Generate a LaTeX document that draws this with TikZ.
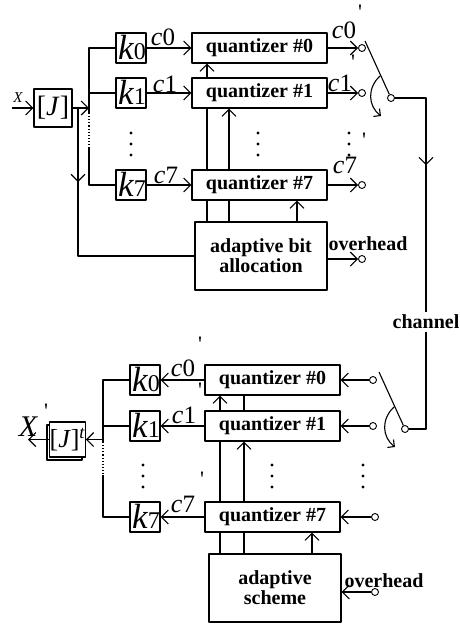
\documentclass[tikz,border=0pt]{standalone}
\usepackage{fontspec}
\setmainfont{Liberation Serif}
\usetikzlibrary{arrows.meta,decorations.markings}
\newcommand\fsz[1]{\fontsize{#1}{#1}\selectfont}
\newcommand\klab[1]{{\fsz{35}\itshape k}{\fsz{24}#1}}
\newcommand\clab[1]{{\fsz{26}\itshape c}{\fsz{25}#1}}
\newcommand\tick{{\fsz{22}\textquotesingle}}
\newcommand\vdts[2]{\foreach \d in {0,11,22} \fill (#1,#2+\d) circle (1.7pt);}
\newcommand\swarc[1]{%
  \draw (#1) -- ([shift={(-26,-57)}]#1.center);
  \draw[-{Straight Barb[length=5pt,width=10pt]}]
    ([shift={(-11,-22)}]#1.center) .. controls ([shift={(-24,-10)}]#1.center)
    and ([shift={(-23,8)}]#1.center) .. ([shift={(-10,18)}]#1.center);}

\begin{document}
\begin{tikzpicture}[
  x = 1pt, y = -1pt,
  line width=1.1pt, line join=round,
  arr/.style = {-{Straight Barb[length=7pt,width=14pt]}},
  midarr/.style = {postaction={decorate}, decoration={markings,
      mark=at position #1 with {\arrow{Straight Barb[length=7pt,width=14pt]}}}},
  qbox/.style = {draw, fill=white, minimum width=135pt, minimum height=30pt,
      inner sep=0pt, font=\bfseries\fsz{20}},
  kbox/.style = {draw, fill=white, minimum size=30pt, inner sep=0pt},
  abox/.style = {draw, fill=white, minimum width=132pt, minimum height=68pt,
      align=center, font=\bfseries\fsz{20}},
  term/.style = {circle, draw, fill=white, inner sep=0pt, minimum size=7pt, line width=0.9pt},
  txt/.style = {inner sep=0pt}
]
  \useasboundingbox (0,0) rectangle (460,624);

  % encoder
  \node[kbox, minimum size=38pt, font=\fsz{28}] (J) at (53,108) {[\textit{J}]};
  \node[txt, font=\itshape\fsz{15}] (X) at (18,98) {X};
  \coordinate (xin) at (12,108);
  \draw[arr] (xin) -- (J);

  \node[kbox] (k0) at (131,48) {};  \node[txt] (k0t) at (132,47) {\klab0};
  \node[kbox] (k1) at (131,93) {};  \node[txt] (k1t) at (132,92) {\klab1};
  \node[kbox] (k7) at (131,185) {}; \node[txt] (k7t) at (132,184) {\klab7};

  \node[qbox] (q0) at (259.5,48) {quantizer \#0};
  \node[qbox] (q1) at (259.5,93) {quantizer \#1};
  \node[qbox] (q7) at (259.5,185) {quantizer \#7};
  \node[abox] (alloc) at (261,256) {adaptive bit\\allocation};

  \node[term] (o0) at (362,48) {};
  \node[term] (o1) at (362,93) {};
  \node[term] (o7) at (362,185) {};
  \node[term] (oh) at (362,259) {};
  \node[term] (sw1) at (391,98) {};

  % bus
  \coordinate (b0) at (89,48);  \coordinate (b1) at (89,93);
  \coordinate (bj) at (89,108); \coordinate (bd1) at (89,113);
  \coordinate (bd2) at (89,148); \coordinate (b7) at (89,185);
  \coordinate (sp) at (78,108);
  \draw (k0) -- (b0) -- (bd1);
  \draw[dotted] (bd1) -- (bd2);
  \draw (bd2) -- (b7) -- (k7);
  \draw (b1) -- (k1);
  \draw[arr] (J) -- (bj);
  \draw[midarr=0.28] (sp) |- (alloc);

  \draw[arr] (k0) -- (q0);
  \draw[arr] (k1) -- (q1);
  \draw[arr] (k7) -- (q7);
  \node[txt] (c0) at (163,37) {\clab0};
  \node[txt] (c1) at (165,84) {\clab1};
  \node[txt] (c7) at (166,175) {\clab7};

  \draw[arr] (q0) -- (o0);
  \draw[arr] (q1) -- (o1);
  \draw[arr] (q7) -- (o7);
  \draw[arr] (alloc.east |- oh) -- (oh);
  \node[txt, font=\bfseries\fsz{20}] (ovh) at (368,244) {overhead};

  \node[txt] (c0o) at (344,30) {\clab0};  \node[txt] (p0o) at (360,12) {\tick};
  \node[txt] (c1o) at (340,83) {\clab1};  \node[txt] (p1o) at (353,62) {\tick};
  \node[txt] (c7o) at (345,165) {\clab7}; \node[txt] (p7o) at (364,140) {\tick};

  % side info lines
  \coordinate (v1) at (207,0); \coordinate (v2) at (229,0); \coordinate (v3) at (297,0);
  \draw (alloc.north -| v1) -- (q7.south -| v1) (q7.north -| v1) -- (q1.south -| v1);
  \draw[arr] (q1.north -| v1) -- (q0.south -| v1);
  \draw (alloc.north -| v2) -- (q7.south -| v2);
  \draw[arr] (q7.north -| v2) -- (q1.south -| v2);
  \draw[arr] (alloc.north -| v3) -- (q7.south -| v3);

  \vdts{131}{133} \vdts{258}{133} \vdts{349}{133}

  % channel
  \swarc{sw1}
  \node[txt, inner sep=2pt, font=\bfseries\fsz{20}] (chan) at (426,322) {channel};
  \node[term] (sw2) at (405,429) {};
  \draw[midarr=0.40] (sw1) -| (chan.north);
  \draw (chan.south) |- (sw2);
  \swarc{sw2}

  % decoder
  \draw (47,425) rectangle (82,460);
  \node[kbox, minimum size=35pt, font=\fsz{26}] (Jt) at (67.5,439.5) {[\textit{J}]\textsuperscript{\textit{t}}};
  \node[txt, font=\itshape\fsz{30}] (Xo) at (28,427) {X};
  \node[txt] (pX) at (46,411) {\tick};
  \coordinate (xout) at (28,439.5);
  \draw[arr] (Jt) -- (xout);

  \node[kbox] (kb0) at (145,380) {}; \node[txt] (kb0t) at (146,379) {\klab0};
  \node[kbox] (kb1) at (145,426) {}; \node[txt] (kb1t) at (146,425) {\klab1};
  \node[kbox] (kb7) at (145,517) {}; \node[txt] (kb7t) at (146,516) {\klab7};

  \node[qbox] (r0) at (272.5,380) {quantizer \#0};
  \node[qbox] (r1) at (272.5,426) {quantizer \#1};
  \node[qbox] (r7) at (272.5,517) {quantizer \#7};
  \node[abox] (scheme) at (275,588) {adaptive\\scheme};

  \node[term] (i0) at (373,380) {};
  \node[term] (i1) at (373,426) {};
  \node[term] (i7) at (375,517) {};
  \node[term] (ih) at (375,592) {};

  \coordinate (e0) at (103,380); \coordinate (e1) at (103,426);
  \coordinate (ej) at (103,439.5); \coordinate (ed1) at (103,442);
  \coordinate (ed2) at (103,475); \coordinate (e7) at (103,517);
  \draw (kb0) -- (e0) -- (ed1);
  \draw[dotted] (ed1) -- (ed2);
  \draw (ed2) -- (e7) -- (kb7);
  \draw (e1) -- (kb1);
  \draw[arr] (ej) -- (Jt);

  \draw[arr] (i0) -- (r0);
  \draw[arr] (i1) -- (r1);
  \draw[arr] (i7) -- (r7);
  \draw[arr] (ih) -- (scheme.east |- ih);
  \node[txt, font=\bfseries\fsz{20}] (ovh2) at (384,581) {overhead};

  \draw[arr] (r0) -- (kb0);
  \draw[arr] (r1) -- (kb1);
  \draw[arr] (r7) -- (kb7);
  \node[txt] (d0) at (183,368) {\clab0}; \node[txt] (pd0) at (200,344) {\tick};
  \node[txt] (d1) at (184,415) {\clab1}; \node[txt] (pd1) at (200,390) {\tick};
  \node[txt] (d7) at (183,504) {\clab7}; \node[txt] (pd7) at (202,479) {\tick};

  \coordinate (v4) at (220,0); \coordinate (v5) at (244,0); \coordinate (v6) at (312,0);
  \draw (scheme.north -| v4) -- (r7.south -| v4) (r7.north -| v4) -- (r1.south -| v4);
  \draw[arr] (r1.north -| v4) -- (r0.south -| v4);
  \draw (scheme.north -| v5) -- (r7.south -| v5) (r1.north -| v5) -- (r0.south -| v5);
  \draw[arr] (r7.north -| v5) -- (r1.south -| v5);
  \draw[arr] (scheme.north -| v6) -- (r7.south -| v6);

  \vdts{143}{465} \vdts{272}{465} \vdts{363}{465}
\end{tikzpicture}
\end{document}
